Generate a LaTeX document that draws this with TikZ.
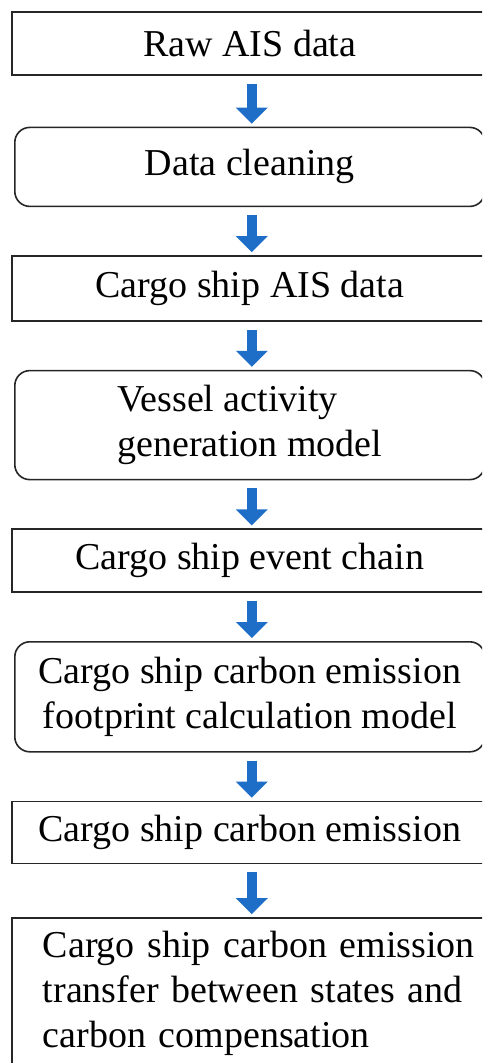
\documentclass[tikz,border=0pt]{standalone}
\usepackage{fontspec}
\setmainfont{Liberation Serif}
\usetikzlibrary{arrows.meta,positioning}
\definecolor{arrowblue}{RGB}{30,110,200}
\tikzset{
    %Define style for boxes
    stepbox/.style={
           rectangle,
           draw=black!85, line width=1.6pt,
           minimum width=476pt,
           inner sep=0pt,
           font=\fontsize{38}{45}\selectfont},
    roundbox/.style={
           stepbox,
           rounded corners=15pt,
           minimum width=470pt},
    % Define arrow style
    flow/.style={
           -{Triangle[width=31pt,length=16pt]},
           line width=10pt,
           draw=arrowblue,
           shorten <=8pt,
           shorten >=3pt}
}
\begin{document}
\begin{tikzpicture}[node distance=48pt]
\clip (0pt,0pt) rectangle (482pt,-1063pt);
\node[stepbox, minimum height=63pt, anchor=north west] (raw) at (11pt,-11pt) {Raw AIS data};
\node[roundbox, minimum height=79pt, below=51pt of raw] (clean) {Data cleaning};
\node[stepbox, minimum height=65pt, below=of clean] (cargo) {Cargo ship AIS data};
\node[roundbox, minimum height=109pt, align=left, below=of cargo] (activity) {Vessel activity\\generation model};
\node[stepbox, minimum height=63pt, below=of activity] (chain) {Cargo ship event chain};
\node[roundbox, minimum height=110pt, align=center, below=of chain] (footprint) {Cargo ship carbon emission\\footprint calculation model};
\node[stepbox, minimum height=62pt, below=of footprint] (emission) {Cargo ship carbon emission};
% last box runs past the bottom edge
\node[stepbox, below=53pt of emission.south west, anchor=north west,
      align=left, text width=460pt,
      inner xsep=31pt, inner ysep=11pt, text height=28pt, text depth=160pt]
      (transfer) {Cargo ship carbon emission\\transfer between states and\\carbon compensation};

\draw[flow] ([xshift=2pt]raw.south) -- ([xshift=2pt]clean.north);
\draw[flow] ([xshift=2pt]clean.south) -- ([xshift=2pt]cargo.north);
\draw[flow] ([xshift=2pt]cargo.south) -- ([xshift=2pt]activity.north);
\draw[flow] ([xshift=2pt]activity.south) -- ([xshift=2pt]chain.north);
\draw[flow] ([xshift=2pt]chain.south) -- ([xshift=2pt]footprint.north);
\draw[flow] ([xshift=2pt]footprint.south) -- ([xshift=2pt]emission.north);
\draw[flow] ([xshift=2pt]emission.south) -- ([xshift=2pt]emission.south |- transfer.north);
\end{tikzpicture}
\end{document}
